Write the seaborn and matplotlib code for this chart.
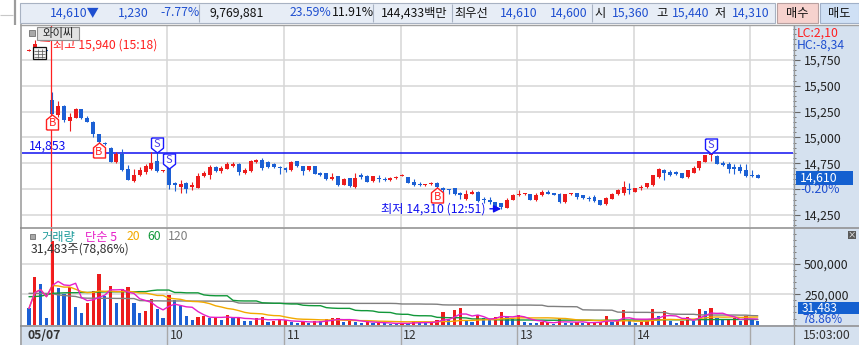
import numpy as np
import pandas as pd
import matplotlib
matplotlib.use("Agg")
import matplotlib.pyplot as plt
import seaborn as sns
from matplotlib.patches import Rectangle
from matplotlib.path import Path
from matplotlib import transforms as mtransforms
from matplotlib.ticker import FixedLocator, FixedFormatter, MultipleLocator

# ---------------------------------------------------------------- data
# 3-minute candles; slot 0 = 09:00 today, negative slots = previous session (05/07)
first_slot = -4

opens = [
    15840, 15870, 15860, 15850,
    15360, 15215, 15305, 15160, 15193, 15273, 15193, 15150, 15031, 14950,
    14898, 14760, 14844, 14692, 14576, 14634, 14666, 14692, 14769, 14680,
    14700, 14555, 14520, 14559, 14520, 14515, 14627, 14634, 14714, 14672,
    14699, 14721, 14747, 14660, 14672, 14760, 14786, 14760, 14740, 14710,
    14705, 14689, 14770, 14721, 14682, 14721, 14656, 14656, 14595, 14624,
    14544, 14608, 14520, 14640, 14627, 14576, 14611, 14600, 14585, 14608,
    14630, 14617, 14569, 14553, 14537, 14547, 14560, 14511, 14500, 14511,
    14462, 14408, 14456, 14472, 14408, 14395, 14375, 14365, 14320, 14400,
    14440, 14450, 14450, 14398, 14440, 14472, 14462, 14456, 14375, 14450,
    14462, 14440, 14415, 14427, 14392, 14360, 14408, 14450, 14462, 14505,
    14472, 14515, 14520, 14537, 14617, 14682, 14666, 14666, 14656, 14617,
    14660, 14708, 14763, 14828, 14820, 14757, 14740, 14714, 14714, 14682,
    14636, 14640]

highs = [
    15855, 15940, 15870, 15860,
    15440, 15350, 15310, 15232, 15286, 15275, 15205, 15155, 15035, 14960,
    14905, 14860, 14886, 14737, 14692, 14714, 14740, 14860, 14860, 14690,
    14705, 14565, 14585, 14565, 14565, 14660, 14680, 14730, 14720, 14720,
    14766, 14766, 14752, 14700, 14780, 14790, 14800, 14770, 14750, 14720,
    14715, 14770, 14775, 14725, 14725, 14725, 14665, 14660, 14656, 14630,
    14610, 14612, 14656, 14656, 14635, 14630, 14640, 14617, 14620, 14625,
    14645, 14622, 14600, 14569, 14552, 14568, 14565, 14520, 14505, 14515,
    14470, 14495, 14488, 14478, 14424, 14424, 14380, 14370, 14410, 14450,
    14495, 14462, 14455, 14462, 14488, 14488, 14466, 14460, 14455, 14466,
    14466, 14445, 14430, 14440, 14396, 14422, 14460, 14500, 14580, 14560,
    14515, 14540, 14564, 14638, 14700, 14692, 14690, 14672, 14660, 14686,
    14720, 14776, 14832, 14850, 14830, 14770, 14763, 14740, 14740, 14740,
    14682, 14645]

lows = [
    15835, 15860, 15780, 15830,
    15225, 15199, 15150, 15063, 15190, 15180, 15145, 15005, 14950, 14925,
    14760, 14755, 14680, 14585, 14570, 14630, 14650, 14690, 14670, 14670,
    14505, 14480, 14466, 14466, 14495, 14510, 14620, 14602, 14665, 14660,
    14695, 14715, 14634, 14650, 14665, 14755, 14690, 14700, 14705, 14650,
    14670, 14680, 14715, 14640, 14675, 14645, 14630, 14590, 14585, 14530,
    14540, 14520, 14515, 14600, 14565, 14570, 14569, 14576, 14580, 14600,
    14625, 14555, 14530, 14527, 14532, 14543, 14515, 14472, 14450, 14445,
    14408, 14400, 14450, 14380, 14370, 14360, 14318, 14310, 14315, 14395,
    14436, 14446, 14395, 14385, 14430, 14450, 14440, 14365, 14370, 14445,
    14408, 14405, 14390, 14380, 14345, 14345, 14404, 14446, 14440, 14450,
    14468, 14490, 14516, 14533, 14612, 14585, 14630, 14640, 14606, 14612,
    14656, 14682, 14758, 14773, 14742, 14725, 14656, 14650, 14656, 14619,
    14617, 14605]

closes = [
    15850, 15900, 15800, 15840,
    15225, 15305, 15167, 15199, 15280, 15186, 15150, 15038, 14956, 14935,
    14763, 14844, 14682, 14585, 14634, 14689, 14721, 14757, 14675, 14685,
    14544, 14540, 14553, 14505, 14544, 14625, 14660, 14714, 14672, 14705,
    14747, 14747, 14666, 14689, 14769, 14780, 14705, 14710, 14712, 14700,
    14682, 14763, 14721, 14675, 14721, 14650, 14640, 14595, 14617, 14537,
    14602, 14527, 14611, 14617, 14569, 14624, 14595, 14585, 14611, 14617,
    14640, 14559, 14537, 14537, 14547, 14563, 14520, 14495, 14492, 14450,
    14440, 14456, 14472, 14385, 14392, 14380, 14320, 14330, 14400, 14445,
    14456, 14458, 14398, 14440, 14472, 14456, 14446, 14375, 14450, 14462,
    14424, 14418, 14405, 14385, 14350, 14418, 14456, 14488, 14520, 14490,
    14511, 14520, 14560, 14634, 14692, 14656, 14640, 14645, 14611, 14682,
    14708, 14772, 14828, 14840, 14747, 14730, 14698, 14692, 14675, 14624,
    14630, 14610]

# volume per candle, thousands of shares
volumes_k = [
    134, 395, 335, 57,
    690, 304, 250, 313, 148, 98, 181, 280, 417, 238,
    318, 181, 291, 313, 181, 98, 112, 211, 129, 57,
    244, 203, 156, 73, 38, 65, 73, 57, 65, 38,
    79, 52, 57, 30, 28, 57, 60, 24, 32, 34,
    38, 24, 11, 24, 16, 32, 30, 44, 52, 55,
    24, 32, 24, 16, 24, 11, 16, 11, 6, 5,
    16, 11, 30, 14, 12, 19, 38, 101, 38, 120,
    139, 38, 19, 79, 52, 38, 65, 101, 71, 44,
    79, 24, 16, 11, 19, 24, 5, 48, 16, 14,
    19, 16, 17, 18, 24, 67, 24, 30, 120, 38,
    16, 19, 30, 130, 71, 110, 30, 16, 30, 65,
    32, 130, 110, 139, 52, 38, 40, 52, 30, 75,
    38, 31.483]

# longer volume averages as drawn on the chart (thousands)
ma60_k = [
    230, 232, 235, 245,
    258, 260, 262, 263, 263, 265, 265, 267, 268, 270,
    270, 271, 271, 271, 271, 272, 272, 280, 285, 285,
    285, 265, 265, 262, 262, 262, 245, 240, 238, 238,
    238, 200, 196, 195, 195, 195, 180, 178, 176, 176,
    172, 170, 170, 160, 157, 156, 156, 140, 136, 134,
    134, 134, 118, 115, 115, 112, 102, 101, 100, 88,
    85, 85, 75, 73, 73, 72, 60, 58, 57, 57,
    57, 55, 47, 46, 46, 45, 40, 39, 38, 38,
    38, 38, 38, 37, 37, 36, 36, 36, 37, 37,
    37, 36, 36, 35, 35, 36, 36, 37, 38, 38,
    38, 38, 38, 39, 40, 40, 40, 40, 40, 40,
    40, 41, 41, 42, 42, 42, 42, 42, 42, 42,
    42, 42]

ma120_k = [
    258, 258, 257, 257,
    256, 245, 240, 236, 232, 220, 218, 218, 217, 217,
    217, 216, 216, 215, 215, 198, 197, 196, 196, 195,
    195, 195, 195, 195, 194, 194, 194, 194, 193, 193,
    193, 192, 178, 177, 177, 176, 176, 176, 176, 176,
    176, 176, 176, 176, 176, 176, 176, 176, 176, 176,
    175, 175, 175, 175, 175, 175, 175, 175, 175, 174,
    170, 170, 170, 170, 169, 169, 168, 163, 162, 162,
    162, 162, 162, 162, 162, 162, 162, 161, 161, 161,
    161, 161, 161, 160, 160, 150, 150, 149, 148, 148,
    147, 122, 121, 120, 120, 119, 119, 103, 102, 102,
    101, 101, 101, 100, 100, 100, 88, 86, 85, 85,
    85, 80, 80, 79, 79, 79, 79, 79, 78, 78,
    74, 73]

buy_slots = [0, 8, 66]
sell_slots = [18, 20, 113]
ref_price = 14853
day_high = 15940
day_low_slot = 77
day_low = 14310
last_price = 14610
last_volume = 31483
hour_labels = ["10", "11", "12", "13", "14", ""]
price_ticks = [14250, 14500, 14750, 15000, 15250, 15500, 15750]
price_tick_labels = ["14,250", "", "14,750", "15,000", "15,250", "15,500", "15,750"]
vol_ticks = [250000, 500000]
vol_tick_labels = ["250,000", "500,000"]

header_texts = ["14,610▼", "1,230", "-7.77%", "9,769,881", "23.59%", "11.91%",
                "144,433백만", "최우선", "14,610", "14,600", "시", "15,360",
                "고", "15,440", "저", "14,310"]

# ---------------------------------------------------------------- style
sns.set_theme(style="white")
FONT = ["Noto Sans CJK KR", "DejaVu Sans"]
plt.rcParams["font.family"] = FONT
plt.rcParams["axes.unicode_minus"] = False

RED = "#ec1c1c"
BLUE = "#1c60d4"
HBLUE = "#1f4fd0"
PURE_BLUE = "#1010f0"
GRID = "#d6d6d6"
STRIP = "#d5e1ef"
FS = 8.8

W, H = 859, 345
fig = plt.figure(figsize=(W / 100, H / 100), dpi=100)
fig.patch.set_facecolor("white")


def rect_of(x0, y0, x1, y1):
    return [x0 / W, 1 - y1 / H, (x1 - x0) / W, (y1 - y0) / H]


ax_bg = fig.add_axes([0, 0, 1, 1], zorder=0)
ax_bg.set_xlim(0, W)
ax_bg.set_ylim(H, 0)
ax_bg.axis("off")

ax_p = fig.add_axes(rect_of(22, 25, 793, 227), zorder=1)
ax_v = fig.add_axes(rect_of(22, 228, 793, 325), zorder=1)

ax_ov = fig.add_axes([0, 0, 1, 1], zorder=10)
ax_ov.set_xlim(0, W)
ax_ov.set_ylim(H, 0)
ax_ov.axis("off")

# ---------------------------------------------------------------- background
ax_bg.add_patch(Rectangle((793, 25), 66, 320, fc=STRIP, ec="none"))
ax_bg.add_patch(Rectangle((20, 325), 773, 20, fc=STRIP, ec="none"))

# header bar
ax_bg.add_patch(Rectangle((20, 3), 755, 20, fc="#e7edf6", ec="#a8b2c2", lw=0.8))
ax_bg.vlines([199, 373, 452, 592], 4, 22, color="#a8b2c2", lw=0.8)
ax_bg.add_patch(Rectangle((777, 3), 41, 20, fc="#f6d2ce", ec="#b8a0a0", lw=0.8))
ax_bg.add_patch(Rectangle((820, 3), 39, 20, fc="#cfe0f5", ec="#a0b0c8", lw=0.8))
ax_bg.vlines([14.5], 0, 25, color="#9c9c9c", lw=1.6)
ax_bg.hlines([15], 0, 13, color="#c8c8c8", lw=0.8)

hx = [50, 118, 160, 210, 290, 332, 381, 454, 500, 550, 594, 612, 656, 672, 715, 732]
hcol = [HBLUE, HBLUE, HBLUE, "#111111", HBLUE, "#111111", "#111111", "#111111",
        HBLUE, HBLUE, "#111111", HBLUE, "#111111", HBLUE, "#111111", HBLUE]
for s, x, c in zip(header_texts, hx, hcol):
    ax_bg.text(x, 13, s, color=c, fontsize=FS, ha="left", va="center")
ax_bg.text(797.5, 13, "매수", color="#111111", fontsize=FS, ha="center", va="center")
ax_bg.text(839.5, 13, "매도", color="#111111", fontsize=FS, ha="center", va="center")

# ---------------------------------------------------------------- candles
idx = np.arange(first_slot, first_slot + len(opens))
o = np.array(opens, float)
hi = np.array(highs, float)
lo = np.array(lows, float)
c = np.array(closes, float)
up = c >= o
ccol = np.where(up, RED, BLUE)

slot_px = 5.83
x0_px = 52.3
xlim = ((22 - x0_px) / slot_px, (793 - x0_px) / slot_px)
hour_pos = [(k + 1) * 20 - 0.25 for k in range(len(hour_labels))]

for ax in (ax_p, ax_v):
    ax.set_xlim(*xlim)
    ax.set_facecolor("white")
    for sp in ax.spines.values():
        sp.set_visible(False)
    ax.set_axisbelow(True)
    ax.xaxis.set_major_locator(FixedLocator(hour_pos))
    ax.tick_params(axis="x", length=0, labelbottom=False)
    ax.yaxis.tick_right()
    ax.tick_params(axis="y", which="major", direction="out", length=5, width=0.8,
                   color="#666666", labelsize=FS, labelcolor="#222222", pad=3)
    ax.tick_params(axis="y", which="minor", direction="out", length=2.5, width=0.7,
                   color="#777777")
    ax.grid(True, which="major", color=GRID, lw=1.1)

ax_p.set_ylim(14134, 16088)
ax_p.yaxis.set_major_locator(FixedLocator(price_ticks))
ax_p.yaxis.set_major_formatter(FixedFormatter(price_tick_labels))
ax_p.yaxis.set_minor_locator(MultipleLocator(50))

ax_p.vlines(idx, np.minimum(lo, np.minimum(o, c)), np.maximum(hi, np.maximum(o, c)),
            colors=ccol, lw=0.8, zorder=3)
body_lo = np.minimum(o, c)
body_h = np.maximum(np.abs(c - o), 9)
ax_p.bar(idx, body_h, bottom=body_lo, width=0.68, color=ccol, linewidth=0, zorder=4)

# reference line
ax_p.axhline(ref_price, color=PURE_BLUE, lw=1.1, zorder=2)
ax_p.text(0.009, ref_price, f"{ref_price:,}", transform=ax_p.get_yaxis_transform(),
          color=PURE_BLUE, fontsize=FS, ha="left", va="bottom")

# day separator
for ax in (ax_p, ax_v):
    ax.axvline(-0.28, color="#ff2020", lw=0.9, zorder=5)

# buy / sell signals
MH = 15
ms = MH * 72 / 100
house_up = Path([(-0.4, -0.5), (0.4, -0.5), (0.4, 0.18), (0.0, 0.5), (-0.4, 0.18), (-0.4, -0.5)])
house_dn = Path([(-0.4, 0.5), (0.4, 0.5), (0.4, -0.18), (0.0, -0.5), (-0.4, -0.18), (-0.4, 0.5)])
tr_b = mtransforms.offset_copy(ax_p.transData, fig=fig, x=0, y=-MH / 2, units="dots")
tr_bt = mtransforms.offset_copy(ax_p.transData, fig=fig, x=0, y=-MH / 2 - 1.5, units="dots")
tr_s = mtransforms.offset_copy(ax_p.transData, fig=fig, x=0, y=MH / 2 - 1, units="dots")
tr_st = mtransforms.offset_copy(ax_p.transData, fig=fig, x=0, y=MH / 2 + 0.5, units="dots")
for s in buy_slots:
    k = s - first_slot
    ax_p.plot([s], [lows[k]], ls="none", marker=house_up, ms=ms, mfc="white", mec="#ff2020",
              mew=1.0, transform=tr_b, zorder=7, clip_on=False)
    ax_p.text(s, lows[k], "B", transform=tr_bt, color="#ff2020", fontsize=8.0,
              ha="center", va="center", zorder=8)
for s in sell_slots:
    k = s - first_slot
    ax_p.plot([s], [highs[k]], ls="none", marker=house_dn, ms=ms, mfc="white", mec="#1a1aff",
              mew=1.0, transform=tr_s, zorder=7, clip_on=False)
    ax_p.text(s, highs[k], "S", transform=tr_st, color="#4a3ee6", fontsize=8.0,
              ha="center", va="center", zorder=8)

# high / low annotations
ax_p.annotate(f"최고 {day_high:,} (15:18)", xy=(first_slot + 1, day_high), xytext=(18, -5),
              textcoords="offset pixels", color="#ff2020", fontsize=FS, ha="left", va="center",
              arrowprops=dict(arrowstyle="-", color="#ff2020", lw=0.8, shrinkA=0, shrinkB=4),
              zorder=9)
ax_p.annotate(f"최저 {day_low:,} (12:51)", xy=(day_low_slot, day_low), xytext=(-16, 0),
              textcoords="offset pixels", color=PURE_BLUE, fontsize=FS, ha="right", va="center",
              arrowprops=dict(arrowstyle="-|>,head_length=0.5,head_width=0.25", color=PURE_BLUE,
                              lw=1.0, shrinkA=1, shrinkB=0),
              zorder=9)

# ---------------------------------------------------------------- volume
vol = np.array(volumes_k, float) * 1000
vcol = [BLUE] + [RED if vol[k] > vol[k - 1] else BLUE for k in range(1, len(vol))]
ax_v.set_ylim(-3300, 797000)
ax_v.yaxis.set_major_locator(FixedLocator(vol_ticks))
ax_v.yaxis.set_major_formatter(FixedFormatter(vol_tick_labels))
ax_v.yaxis.set_minor_locator(MultipleLocator(50000))
ax_v.bar(idx, vol, width=0.55, color=vcol, linewidth=0, zorder=3)

vs = pd.Series(vol)
ma5 = vs.rolling(5, min_periods=1).mean().to_numpy()
ma20 = vs.rolling(20, min_periods=1).mean().to_numpy()
ma60 = np.array(ma60_k, float) * 1000
ma120 = np.array(ma120_k, float) * 1000
for series, col in ((ma120, "#7f7f7f"), (ma60, "#12983a"), (ma20, "#f2a900"), (ma5, "#e61ec8")):
    sns.lineplot(x=idx, y=series, ax=ax_v, color=col, lw=1.0, legend=False,
                 estimator=None, zorder=4)
ax_v.set_xlabel("")
ax_v.set_ylabel("")

# bottom strip dividers and labels
btr = mtransforms.blended_transform_factory(ax_v.transData, ax_v.transAxes)
ax_v.vlines(hour_pos, -20 / 97, 0, transform=btr, color="#a8a8a8", lw=1.0, clip_on=False)
for pos, lab in zip(hour_pos, hour_labels):
    ax_v.text(pos + 0.45, -10.5 / 97, lab, transform=btr, color="#333333", fontsize=FS,
              ha="left", va="center", clip_on=False)

# ---------------------------------------------------------------- frame lines / overlay
ax_ov.vlines([20.8], 24, 345, color="#a0a0a0", lw=1.2)
ax_ov.hlines([24.8], 20, 859, color="#a0a0a0", lw=1.0)
ax_ov.hlines([227.5], 20, 859, color="#8c8c8c", lw=1.1)
ax_ov.hlines([325.6], 20, 859, color="#8c8c8c", lw=1.1)
ax_ov.vlines([793.5], 25, 345, color="#9a9a9a", lw=0.9)

ax_ov.text(28, 335.5, "05/07", color="#333333", fontsize=FS, fontweight="bold",
           ha="left", va="center")
ax_ov.text(803, 335.5, "15:03:00", color="#333333", fontsize=FS, ha="left", va="center")

# price panel top-left
ax_ov.add_patch(Rectangle((29, 30), 6, 6, fc="#a8a8a8", ec="#707070", lw=0.6))
ax_ov.add_patch(Rectangle((37, 27), 42, 13, fc="#e2e2e2", ec="#909090", lw=0.8))
ax_ov.text(58, 33.2, "와이씨", color="#222222", fontsize=8.2, ha="center", va="center")
ax_ov.add_patch(Rectangle((33, 47), 13, 12, fc="#f4f4f4", ec="#111111", lw=0.9))
ax_ov.hlines([50.5, 53.5, 56.5], 34, 45, color="#555555", lw=0.5)
ax_ov.vlines([37.5, 41.5], 49, 58, color="#555555", lw=0.5)

# right strip texts
ax_ov.text(797, 33, "LC:2,10", color="#ff2020", fontsize=FS, ha="left", va="center")
ax_ov.text(797, 45.5, "HC:-8,34", color=HBLUE, fontsize=FS, ha="left", va="center")

ptr = mtransforms.blended_transform_factory(ax_ov.transData, ax_p.transData)
ax_ov.add_patch(Rectangle((796, last_price - 66), 57, 132, transform=ptr, fc="#1460d0", ec="none"))
ax_ov.text(800, last_price, f"{last_price:,}", transform=ptr, color="white", fontsize=FS,
           ha="left", va="center")
ax_ov.text(800, 189.5, "-0.20%", color=HBLUE, fontsize=FS, ha="left", va="center")

# volume panel texts
ax_ov.add_patch(Rectangle((30, 233.5), 5, 5, fc="#a8a8a8", ec="#707070", lw=0.6))
for s, x, col in (("거래량", 41, "#1f9c9c"), ("단순 5", 85, "#e61ec8"), ("20", 127, "#f2a900"),
                  ("60", 147, "#12983a"), ("120", 168, "#7f7f7f")):
    ax_ov.text(x, 237, s, color=col, fontsize=FS, ha="left", va="center")
ax_ov.text(31, 249.5, f"{last_volume:,}주(78,86%)", color="#333333", fontsize=FS,
           ha="left", va="center")
ax_ov.add_patch(Rectangle((848, 231), 8, 8, fc="#5a5a5a", ec="none"))
ax_ov.text(852, 235, "×", color="white", fontsize=6, ha="center", va="center")

ax_ov.add_patch(Rectangle((798, 302), 61, 12, fc="#1460d0", ec="none"))
ax_ov.text(802, 308, f"{last_volume:,}", color="white", fontsize=8.5, ha="left", va="center")
ax_ov.text(802, 319.5, "78.86%", color=HBLUE, fontsize=8.5, ha="left", va="center")

fig.savefig("out.png", dpi=100)
